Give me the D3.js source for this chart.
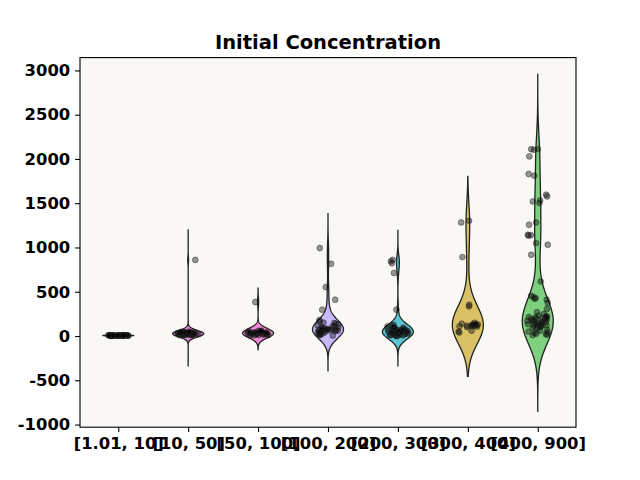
<!DOCTYPE html>
<html>
<head>
<meta charset="utf-8">
<script src="https://cdn.jsdelivr.net/npm/d3@7"></script>
<style>
  body { margin: 0; background: #fff; }
  text { font-family: "DejaVu Sans", sans-serif; font-weight: bold; }
</style>
</head>
<body>
<div id="chart-area"></div>
<script>
// categories (bins) and the values in each one
const categories = ['[1.01, 10]', '[10, 50]', '[50, 100]', '[100, 200]', '[200, 300]', '[300, 400]', '[400, 900]'];

const bin1 = [1.5, 2, 2, 2.5, 3, 3, 3.2, 3.5, 3.8, 4, 4, 4.5, 5, 5, 5, 5.5, 6, 6, 6.5, 7,
  7, 7.5, 8, 8, 8.5, 9, 9, 9.5, 10, 10, 2.8, 4.2, 5.8, 6.8, 7.8];
const bin2 = [10, 11, 12, 12, 13, 14, 15, 15, 16, 17, 18, 18, 19, 20, 20, 21, 22, 23, 24, 25,
  25, 26, 27, 28, 29, 30, 30, 32, 33, 34, 35, 36, 38, 40, 41, 42, 44, 45, 47, 49, 860];
const bin3 = [5, 8, 10, 12, 15, 18, 20, 22, 24, 25, 27, 28, 30, 31, 32, 34, 35, 36, 38, 40,
  42, 44, 45, 48, 50, 52, 55, 58, 60, 384];
const bin4 = [5, 10, 15, 20, 25, 30, 35, 40, 45, 50, 52, 55, 58, 60, 62, 65, 68, 70, 72, 75,
  78, 80, 85, 90, 95, 100, 105, 110, 120, 130, 140, 150, 165, 180,
  147, 297, 410, 553, 817, 994];
const bin5 = [0, 0, 5, 8, 10, 12, 15, 18, 20, 22, 25, 28, 30, 32, 35, 38, 40, 42, 45, 48,
  50, 52, 55, 58, 60, 62, 65, 68, 70, 75, 80, 85, 90, 95, 100, 110, 120, 125,
  297, 712, 822, 844, 860];
const bin6 = [40, 50, 60, 100, 105, 110, 112, 115, 118, 120, 122, 125, 128, 130, 135, 140, 150,
  334, 353, 892, 1283, 1302];
const bin7 = [10, 15, 20, 25, 34, 40, 50, 60, 70, 80, 90,
  100, 105, 110, 115, 120, 125, 130, 135, 140, 145, 150, 155, 160, 165, 170, 175, 180, 185,
  190, 195, 200, 200, 205, 210, 215, 220, 225, 230, 250, 270,
  305, 373, 410, 420, 429, 440, 455, 617, 918, 1031, 1050, 1133, 1140, 1144, 1257, 1283,
  1502, 1520, 1532, 1577, 1596, 1811, 1830, 2029, 2105, 2110, 2112];
const values = [bin1, bin2, bin3, bin4, bin5, bin6, bin7];

// kernel bandwidth and where each violin's tails end (data units)
const bandwidths = [2, 35, 50, 95, 75, 205, 230];
const tailLow = [-3, -343, -155, -400, -343, -456, -852];
const tailHigh = [14, 1205, 540, 1390, 1200, 1803, 2955];

const colors = ['#f2a0a0', '#f08ad6', '#f08ad6', '#c9b9fb', '#5ac4d2', '#dbc165', '#7dd07d'];
const yTicks = [-1000, -500, 0, 500, 1000, 1500, 2000, 2500, 3000];

// chart size
const margin = {left: 80, right: 64, top: 57.6, bottom: 52.8};
const width = 640 - margin.left - margin.right;
const height = 480 - margin.top - margin.bottom;

const svg = d3.select('#chart-area')
  .append('svg')
  .attr('width', 640)
  .attr('height', 480);

const g = svg.append('g')
  .attr('transform', `translate(${margin.left}, ${margin.top})`);

// axes background
g.append('rect')
  .attr('width', width)
  .attr('height', height)
  .attr('fill', '#f9f8f4');

const x = d3.scalePoint()
  .domain(categories)
  .range([0, width])
  .padding(0.547);

const y = d3.scaleLinear()
  .domain([-1030, 3145])
  .range([height, 0]);

const halfWidth = 15.5;

// gaussian kde
function kde(data, bw, lo, hi) {
  const n = 300;
  const out = [];
  for (let i = 0; i <= n; i++) {
    const v = lo + (hi - lo) * i / n;
    let s = 0;
    data.forEach(d => {
      const z = (v - d) / bw;
      s += Math.exp(-0.5 * z * z);
    });
    out.push([v, s]);
  }
  return out;
}

const area = d3.area()
  .curve(d3.curveLinear);

categories.forEach((cat, i) => {
  const dens = kde(values[i], bandwidths[i], tailLow[i], tailHigh[i]);
  const maxD = d3.max(dens, d => d[1]);
  const w = d3.scaleLinear().domain([0, maxD]).range([0, halfWidth]);
  const cx = x(cat);

  area
    .y(d => y(d[0]))
    .x0(d => cx - w(d[1]))
    .x1(d => cx + w(d[1]));

  g.append('path')
    .attr('d', area(dens))
    .attr('fill', colors[i])
    .attr('stroke', '#222')
    .attr('stroke-width', 1.3);
});

// jittered points
const rnd = d3.randomUniform.source(d3.randomLcg(0.42))(-0.15, 0.15);
categories.forEach((cat, i) => {
  g.append('g')
    .selectAll('circle')
    .data(values[i])
    .enter()
    .append('circle')
    .attr('cx', () => x(cat) + rnd() * x.step())
    .attr('cy', d => y(d))
    .attr('r', 2.9)
    .attr('fill', 'rgba(0,0,0,0.4)')
    .attr('stroke', 'rgba(40,40,40,0.6)')
    .attr('stroke-width', 0.8);
});

// axes
const xAxisCall = d3.axisBottom(x).tickSize(4.9).tickPadding(4.9);
const yAxisCall = d3.axisLeft(y)
  .tickValues(yTicks)
  .tickSize(4.9)
  .tickPadding(4.9)
  .tickFormat(v => String(v));

const xAxis = g.append('g')
  .attr('transform', `translate(0, ${height})`)
  .call(xAxisCall);

const yAxis = g.append('g')
  .call(yAxisCall);

[xAxis, yAxis].forEach(a => {
  a.select('.domain').remove();
  a.selectAll('line').attr('stroke', '#000').attr('stroke-width', 1.1);
  a.selectAll('text')
    .attr('fill', '#000')
    .attr('font-size', '16.4px')
    .attr('font-family', 'DejaVu Sans')
    .attr('font-weight', 'bold');
});

// frame
g.append('rect')
  .attr('width', width)
  .attr('height', height)
  .attr('fill', 'none')
  .attr('stroke', '#000')
  .attr('stroke-width', 1.1);

// title
svg.append('text')
  .attr('x', margin.left + width / 2)
  .attr('y', margin.top - 8.3)
  .attr('text-anchor', 'middle')
  .attr('font-size', '19.5px')
  .text('Initial Concentration');
</script>
</body>
</html>
